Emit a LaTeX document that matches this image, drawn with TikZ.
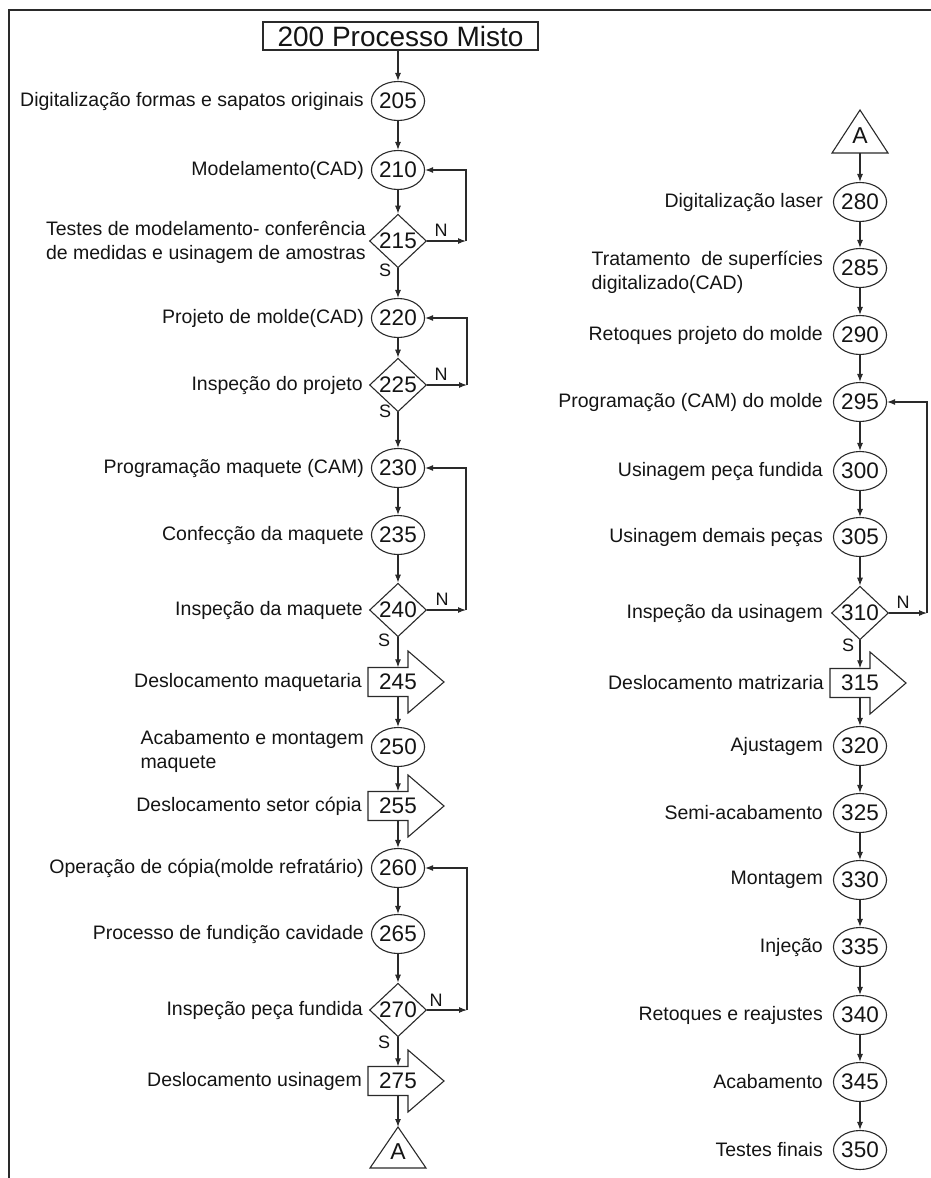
\documentclass[tikz,border=0pt]{standalone}
\usepackage{fontspec}
\setmainfont{Liberation Sans}
\usetikzlibrary{arrows.meta,shapes.geometric,calc}
\definecolor{lc}{HTML}{2A2A2A}
\definecolor{tc}{HTML}{141414}
\newcommand\blockarrowoutline[1]{%
  \draw[shp] ([shift={(-30,-14.5)}]#1.center) -- ++(40,0) -- ++(0,-16.5) -- ++(36,31) -- ++(-36,31) -- ++(0,-16.5) -- ++(-40,0) -- cycle;}
\begin{document}
\begin{tikzpicture}[x=1pt,y=-1pt,
  every node/.style={text=tc, inner sep=0pt},
  lbl/.style={anchor=east, font=\fontsize{19.5}{24}\selectfont, align=right},
  lbll/.style={anchor=east, font=\fontsize{19.5}{24}\selectfont, align=left},
  shp/.style={draw=lc, line width=1.1pt},
  circ/.style={shp, ellipse, minimum width=41pt, minimum height=39pt, font=\fontsize{22.5}{22.5}\selectfont},
  dia/.style={shp, diamond, minimum width=57pt, minimum height=50pt, font=\fontsize{22.5}{22.5}\selectfont},
  barrow/.style={rectangle, minimum width=40pt, minimum height=29pt, font=\fontsize{22.5}{22.5}\selectfont},
  sn/.style={font=\fontsize{18}{18}\selectfont},
  tri/.style={font=\fontsize{23}{23}\selectfont},
  arr/.style={draw=lc, line width=1.1pt, -{Latex[length=8pt,width=6pt]}}
]
\useasboundingbox (0,0) rectangle (931,1178);
\draw[lc, line width=2pt] (931,10) -- (9,10) -- (9,1178);

% ---------- left column ----------
\node[shp, line width=1.3pt, minimum width=275pt, minimum height=28pt, font=\fontsize{28}{28}\selectfont] (t200) at (400.5,36) {200 Processo Misto};
\node[circ] (c205) at (398,101) {205};
\node[circ] (c210) at (398,170) {210};
\node[dia]  (d215) at (398,241) {215};
\node[circ] (c220) at (398,318) {220};
\node[dia]  (d225) at (398,385) {225};
\node[circ] (c230) at (398,468) {230};
\node[circ] (c235) at (398,535) {235};
\node[dia]  (d240) at (398,610) {240};
\node[barrow] (a245) at (398,682) {245};
\node[circ] (c250) at (398,747) {250};
\node[barrow] (a255) at (398,806) {255};
\node[circ] (c260) at (398,868) {260};
\node[circ] (c265) at (398,934) {265};
\node[dia]  (d270) at (398,1010) {270};
\node[barrow] (a275) at (398,1081) {275};
\node[tri] (tA1) at (398,1152) {A};
\coordinate (tA1top) at (398,1127);
\draw[shp] (398,1127) -- (426,1168) -- (370,1168) -- cycle;

\blockarrowoutline{a245}
\blockarrowoutline{a255}
\blockarrowoutline{a275}

\node[lbl] (l205) at (364,101) {Digitalização formas e sapatos originais};
\node[lbl] (l210) at (364,170) {Modelamento(CAD)};
\node[lbl] (l215) at (366,242) {Testes de modelamento- conferência\\de medidas e usinagem de amostras};
\node[lbl] (l220) at (364,318) {Projeto de molde(CAD)};
\node[lbl] (l225) at (363,385) {Inspeção do projeto};
\node[lbl] (l230) at (364,468) {Programação maquete (CAM)};
\node[lbl] (l235) at (364,535) {Confecção da maquete};
\node[lbl] (l240) at (363,610) {Inspeção da maquete};
\node[lbl] (l245) at (362,682) {Deslocamento maquetaria};
\node[lbll] (l250) at (364,751) {Acabamento e montagem\\maquete};
\node[lbl] (l255) at (362,806) {Deslocamento setor cópia};
\node[lbl] (l260) at (364,868) {Operação de cópia(molde refratário)};
\node[lbl] (l265) at (364,934) {Processo de fundição cavidade};
\node[lbl] (l270) at (363,1010) {Inspeção peça fundida};
\node[lbl] (l275) at (362,1081) {Deslocamento usinagem};

\draw[arr] (t200.south -| c205.north) -- (c205);
\draw[arr] (c205) -- (c210);
\draw[arr] (c210) -- (d215);
\draw[arr] (d215) -- (c220);
\draw[arr] (c220) -- (d225);
\draw[arr] (d225) -- (c230);
\draw[arr] (c230) -- (c235);
\draw[arr] (c235) -- (d240);
\draw[arr] (d240) -- (a245);
\draw[arr] (a245) -- (c250);
\draw[arr] (c250) -- (a255);
\draw[arr] (a255) -- (c260);
\draw[arr] (c260) -- (c265);
\draw[arr] (c265) -- (d270);
\draw[arr] (d270) -- (a275);
\draw[arr] (a275) -- (tA1top);

\coordinate (k215) at (466,241);
\coordinate (k225) at (467,385);
\coordinate (k240) at (466,610);
\coordinate (k270) at (467,1010);
\draw[arr] (d215.east) -- (k215);
\draw[arr] (k215) |- (c210.east);
\draw[arr] (d225.east) -- (k225);
\draw[arr] (k225) |- (c220.east);
\draw[arr] (d240.east) -- (k240);
\draw[arr] (k240) |- (c230.east);
\draw[arr] (d270.east) -- (k270);
\draw[arr] (k270) |- (c260.east);

\node[sn] (s215) at (385,270) {S};
\node[sn] (n215) at (441,230) {N};
\node[sn] (s225) at (385,411) {S};
\node[sn] (n225) at (441,374) {N};
\node[sn] (s240) at (384,640) {S};
\node[sn] (n240) at (442,599) {N};
\node[sn] (s270) at (384,1042) {S};
\node[sn] (n270) at (436,1000) {N};

% ---------- right column ----------
\node[tri] (tA2) at (860,136) {A};
\coordinate (tA2bot) at (860,153);
\draw[shp] (860,110) -- (888,153) -- (832,153) -- cycle;
\node[circ] (c280) at (860,202) {280};
\node[circ] (c285) at (860,268) {285};
\node[circ] (c290) at (860,335) {290};
\node[circ] (c295) at (860,402) {295};
\node[circ] (c300) at (860,471) {300};
\node[circ] (c305) at (860,537) {305};
\node[dia]  (d310) at (860,613) {310};
\node[barrow] (a315) at (860,683) {315};
\node[circ] (c320) at (860,746) {320};
\node[circ] (c325) at (860,813) {325};
\node[circ] (c330) at (860,880) {330};
\node[circ] (c335) at (860,947) {335};
\node[circ] (c340) at (860,1015) {340};
\node[circ] (c345) at (860,1082) {345};
\node[circ] (c350) at (860,1150) {350};
\blockarrowoutline{a315}

\node[lbl] (l280) at (823,202) {Digitalização laser};
\node[lbll] (l285) at (823,272) {Tratamento \ de superfícies\\digitalizado(CAD)};
\node[lbl] (l290) at (823,335) {Retoques projeto do molde};
\node[lbl] (l295) at (823,402) {Programação (CAM) do molde};
\node[lbl] (l300) at (823,471) {Usinagem peça fundida};
\node[lbl] (l305) at (823,537) {Usinagem demais peças};
\node[lbl] (l310) at (823,613) {Inspeção da usinagem};
\node[lbl] (l315) at (824,683) {Deslocamento matrizaria};
\node[lbl] (l320) at (823,746) {Ajustagem};
\node[lbl] (l325) at (823,813) {Semi-acabamento};
\node[lbl] (l330) at (823,880) {Montagem};
\node[lbl] (l335) at (823,947) {Injeção};
\node[lbl] (l340) at (823,1015) {Retoques e reajustes};
\node[lbl] (l345) at (823,1082) {Acabamento};
\node[lbl] (l350) at (823,1150) {Testes finais};

\draw[arr] (tA2bot) -- (c280);
\draw[arr] (c280) -- (c285);
\draw[arr] (c285) -- (c290);
\draw[arr] (c290) -- (c295);
\draw[arr] (c295) -- (c300);
\draw[arr] (c300) -- (c305);
\draw[arr] (c305) -- (d310);
\draw[arr] (d310) -- (a315);
\draw[arr] (a315) -- (c320);
\draw[arr] (c320) -- (c325);
\draw[arr] (c325) -- (c330);
\draw[arr] (c330) -- (c335);
\draw[arr] (c335) -- (c340);
\draw[arr] (c340) -- (c345);
\draw[arr] (c345) -- (c350);

\coordinate (k310) at (927,613);
\draw[arr] (d310.east) -- (k310);
\draw[arr] (k310) |- (c295.east);
\node[sn] (s310) at (848,645) {S};
\node[sn] (n310) at (903,602) {N};
\end{tikzpicture}
\end{document}
